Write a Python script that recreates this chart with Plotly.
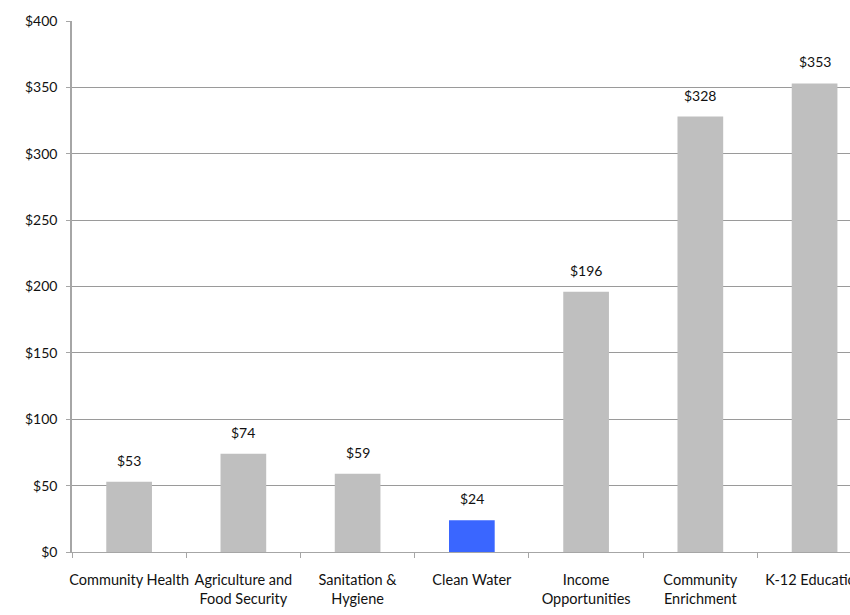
import plotly.graph_objects as go

categories = ["Community Health", "Agriculture and<br>Food Security", "Sanitation &<br>Hygiene",
              "Clean Water", "Income<br>Opportunities", "Community<br>Enrichment", "K-12 Education"]
values = [53, 74, 59, 24, 196, 328, 353]
highlight = "Clean Water"
y_ticks = [0, 50, 100, 150, 200, 250, 300, 350, 400]

colors = ["#3a66ff" if c == highlight else "#bfbfbf" for c in categories]

font = "Lato, sans-serif"

fig = go.Figure(go.Bar(x=categories, y=values, marker=dict(color=colors, line=dict(width=0)),
                       width=0.4, hoverinfo="skip"))

for c, v in zip(categories, values):
    fig.add_annotation(x=c, y=v, text=f"${v}", showarrow=False, yanchor="bottom",
                       yshift=11, font=dict(family=font, size=14, color="#111"))

fig.update_layout(
    width=850, height=615,
    margin=dict(l=72, r=0, t=21, b=63, autoexpand=False),
    plot_bgcolor="white", paper_bgcolor="white",
    showlegend=False,
    font=dict(family=font, size=14, color="#111"),
    xaxis=dict(range=[-0.5, 6.31], tickson="boundaries", ticks="outside", ticklen=5,
               tickcolor="#a6a6a6", showline=True, linecolor="#a6a6a6", linewidth=1,
               tickangle=0, automargin=False, ticklabelstandoff=15,
               showgrid=False, tickfont=dict(family=font, size=14.5, color="#111"), fixedrange=True),
    yaxis=dict(range=[0, 400], tickvals=y_ticks, ticktext=[f"${t}" for t in y_ticks],
               ticks="outside", ticklen=4, tickcolor="#a6a6a6", showline=True, automargin=False,
               ticklabelstandoff=6,
               linecolor="#a6a6a6", linewidth=1.5, showgrid=True, gridcolor="#9a9a9a",
               gridwidth=1.3, zeroline=False, tickfont=dict(family=font, size=14, color="#111"),
               fixedrange=True),
)

fig.write_html("out.html", config={"displayModeBar": False},
               post_script="document.body.style.margin='0';document.body.style.overflow='hidden';")
